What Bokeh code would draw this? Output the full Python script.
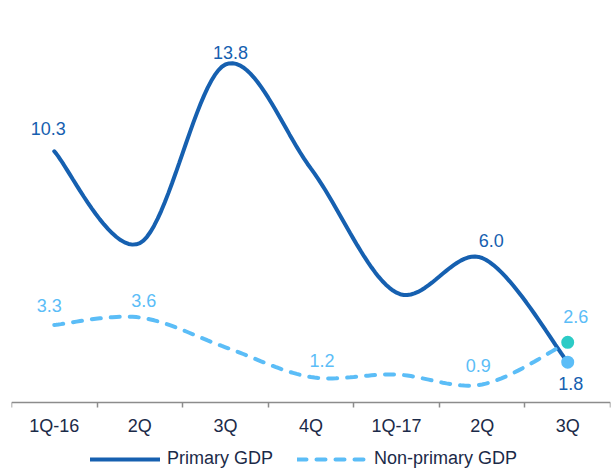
from bokeh.plotting import figure
from bokeh.models import (ColumnDataSource, Range1d, LinearAxis, FixedTicker,
                          Legend, LegendItem)
from bokeh.core.properties import value
from bokeh.embed import file_html
from bokeh.resources import INLINE

# Quarterly real GDP growth, % y/y
quarters = ["1Q-16", "2Q", "3Q", "4Q", "1Q-17", "2Q", "3Q"]
primary_gdp = [10.3, 6.6, 13.8, 9.6, 4.6, 6.0, 1.8]
non_primary_gdp = [3.3, 3.6, 2.4, 1.2, 1.3, 0.9, 2.6]

# which points carry a value label
primary_labelled = [0, 2, 5, 6]
non_primary_labelled = [0, 1, 3, 5, 6]

# label offsets in screen pixels (x right, y down)
primary_label_dx = [-6, 5, 9, 3]
primary_label_dy = [-23, -12, -17, 21]
non_primary_label_dx = [-5, 4, 11, -4, 8]
non_primary_label_dy = [-19, -17, -17, -19, -26]

DARK_BLUE = "#1660B0"
LIGHT_BLUE = "#5BBDF7"
TEAL = "#2CCBC6"
NAVY = "#1B2A48"
FONT = "Liberation Sans"
FS = "18px"

x_pos = [i + 0.5 for i in range(len(quarters))]


def smooth(xs, ys, steps=24):
    """Catmull-Rom style cubic Bezier through every point (spreadsheet 'smoothed line')."""
    n = len(xs)
    px, py = [], []
    for i in range(n - 1):
        x0, y0 = xs[max(i - 1, 0)], ys[max(i - 1, 0)]
        x1, y1 = xs[i], ys[i]
        x2, y2 = xs[i + 1], ys[i + 1]
        x3, y3 = xs[min(i + 2, n - 1)], ys[min(i + 2, n - 1)]
        c1x, c1y = x1 + (x2 - x0) / 6, y1 + (y2 - y0) / 6
        c2x, c2y = x2 - (x3 - x1) / 6, y2 - (y3 - y1) / 6
        for s in range(steps + (1 if i == n - 2 else 0)):
            t = s / steps
            a, b, c, d = (1 - t) ** 3, 3 * (1 - t) ** 2 * t, 3 * (1 - t) * t ** 2, t ** 3
            px.append(a * x1 + b * c1x + c * c2x + d * x2)
            py.append(a * y1 + b * c1y + c * c2y + d * y2)
    return px, py


# the frame runs to the bottom edge so the legend can sit below the axis
p = figure(width=616, height=473, output_backend="svg",
           toolbar_location=None,
           x_range=Range1d(0, len(quarters)), y_range=Range1d(-2.69, 16.18),
           x_axis_location=None, y_axis_location=None,
           min_border_left=11, min_border_right=6, min_border_top=5,
           min_border_bottom=0)
p.outline_line_color = None
p.xgrid.visible = False
p.ygrid.visible = False
p.background_fill_color = "white"
p.border_fill_color = "white"

# x axis: category names at centres, tick marks on the boundaries
ticker = FixedTicker(ticks=x_pos, minor_ticks=list(range(len(quarters) + 1)))
xaxis = LinearAxis(ticker=ticker, fixed_location=0.185)
xaxis.major_label_overrides = {x: q for x, q in zip(x_pos, quarters)}
xaxis.axis_line_color = "#8C8C8C"
xaxis.axis_line_width = 1.5
xaxis.major_tick_line_color = None
xaxis.major_tick_out = 0
xaxis.major_tick_in = 0
xaxis.minor_tick_line_color = "#8C8C8C"
xaxis.minor_tick_line_width = 1.5
xaxis.minor_tick_in = 0
xaxis.minor_tick_out = 5
xaxis.major_label_standoff = 9
xaxis.major_label_text_font = FONT
xaxis.major_label_text_font_size = FS
xaxis.major_label_text_color = NAVY
p.add_layout(xaxis, "below")

# smoothed series
sx, sy = smooth(x_pos, primary_gdp)
r_primary = p.line(sx, sy, line_color=DARK_BLUE, line_width=4, line_cap="round")
nx, ny = smooth(x_pos, non_primary_gdp)
r_non = p.line(nx, ny, line_color=LIGHT_BLUE, line_width=4, line_dash="9 10",
               line_cap="round")

# markers on the latest quarter
p.scatter([x_pos[-1]], [non_primary_gdp[-1]], size=13, fill_color=TEAL, line_color=None)
p.scatter([x_pos[-1]], [primary_gdp[-1]], size=13, fill_color=LIGHT_BLUE, line_color=None)

# value labels
prim_src = ColumnDataSource(dict(
    x=[x_pos[i] for i in primary_labelled],
    y=[primary_gdp[i] for i in primary_labelled],
    t=[f"{primary_gdp[i]:.1f}" for i in primary_labelled],
    dx=primary_label_dx, dy=primary_label_dy))
p.text(x="x", y="y", text="t", x_offset="dx", y_offset="dy", source=prim_src,
       text_align="center", text_baseline="alphabetic", text_color=DARK_BLUE,
       text_font=value(FONT), text_font_size=FS)

non_src = ColumnDataSource(dict(
    x=[x_pos[i] for i in non_primary_labelled],
    y=[non_primary_gdp[i] for i in non_primary_labelled],
    t=[f"{non_primary_gdp[i]:.1f}" for i in non_primary_labelled],
    dx=non_primary_label_dx, dy=non_primary_label_dy))
p.text(x="x", y="y", text="t", x_offset="dx", y_offset="dy", source=non_src,
       text_align="center", text_baseline="alphabetic", text_color=LIGHT_BLUE,
       text_font=value(FONT), text_font_size=FS)

# legend under the axis, placed from the frame's lower-left corner
legend = Legend(items=[LegendItem(label="Primary GDP", renderers=[r_primary]),
                       LegendItem(label="Non-primary GDP", renderers=[r_non])],
                orientation="horizontal", location=(79, 4),
                glyph_width=70, glyph_height=20, label_standoff=7, spacing=24,
                padding=0, margin=0, border_line_color=None,
                background_fill_alpha=0,
                label_text_font=FONT, label_text_font_size=FS,
                label_text_color=NAVY)
p.add_layout(legend, "center")

open("out.html", "w").write(file_html(p, INLINE))
